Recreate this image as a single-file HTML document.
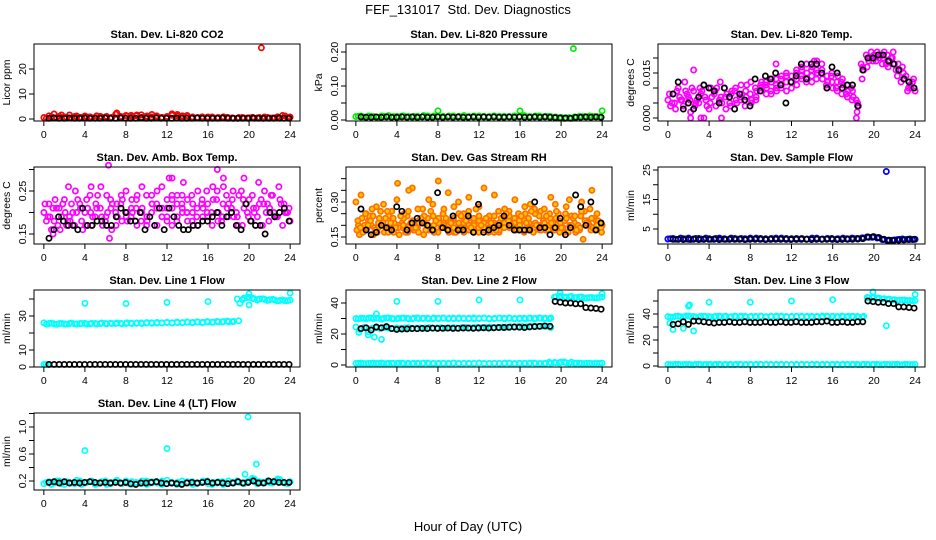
<!DOCTYPE html>
<html><head><meta charset="utf-8"><style>
html,body{margin:0;padding:0;background:#fff;}
svg{display:block;font-family:"Liberation Sans",sans-serif;}
</style></head><body>
<svg id="chart" width="936" height="540" viewBox="0 0 936 540" xmlns="http://www.w3.org/2000/svg">
<rect width="936" height="540" fill="#fff"/>
<text x="468" y="14" text-anchor="middle" font-size="13">FEF_131017&#160; Std. Dev. Diagnostics</text>
<text x="468" y="531" text-anchor="middle" font-size="13">Hour of Day (UTC)</text>
</svg>
<script>
const xTicks=[0,4,8,12,16,20,24];
const co2Red=[0.6,1.3,2.0,1.1,0.8,1.6,1.0,0.7,1.2,0.9,0.6,1.1,0.8,0.5,1.9,1.0,1.4,1.5,1.2,1.7,0.9,0.8,1.3,0.7,0.6,1.5,1.8,1.3,1.0,0.8,0.6,0.5,0.8,0.4,0.6,0.9,0.5,0.3,0.6,0.4,0.5,0.3,0.6,0.8,0.4,0.5,0.3,1.2,0.8];
const co2RedB=[0.3,0.9,0.5,1.6,0.7,0.4,1.2,0.6,0.9,0.5,1.3,0.7,1.0,0.6,2.4,0.8,1.1,0.9,1.6,0.7,1.2,1.8,0.9,0.6,1.0,2.1,1.2,0.8,1.4,0.7,0.5,0.9,0.6,0.8,0.5,0.4,0.7,0.5,0.3,0.6,0.4,0.7,0.5,0.3,0.6,0.4,0.9,1.4,0.5];
const co2OutHrs=[21.2], co2OutVals=[28.5];
const co2Black=[0.3,0.4,0.3,0.3,0.4,0.3,0.3,0.4,0.3,0.3,0.3,0.4,0.3,0.3,0.4,0.3,0.3,0.3,0.4,0.3,0.3,0.4,0.3,0.3,0.3,0.4,0.3,0.3,0.3,0.4,0.3,0.3,0.3,0.3,0.4,0.3,0.3,0.3,0.3,0.3,0.4,0.3,0.3,0.3,0.3,0.4,0.3,0.3];
const pressGreen=[0.010,0.012,0.009,0.011,0.008,0.012,0.010,0.009,0.011,0.012,0.010,0.008,0.011,0.010,0.012,0.009,0.027,0.011,0.010,0.012,0.009,0.011,0.010,0.012,0.011,0.009,0.010,0.012,0.011,0.010,0.009,0.012,0.027,0.011,0.010,0.012,0.009,0.011,0.010,0.009,0.008,0.006,0.005,0.008,0.010,0.009,0.011,0.010,0.027];
const pressGreenB=[0.011,0.009,0.012,0.010,0.008,0.011,0.013,0.010,0.009,0.012,0.010,0.011,0.009,0.013,0.010,0.012,0.011,0.009,0.012,0.010,0.011,0.013,0.010,0.009,0.012,0.011,0.010,0.012,0.009,0.011,0.010,0.012,0.011,0.013,0.010,0.009,0.012,0.010,0.011,0.008,0.006,0.004,0.007,0.009,0.011,0.010,0.012,0.010,0.009];
const pressOutHrs=[21.2], pressOutVals=[0.21];
const pressBlack=[0.009,0.008,0.008,0.009,0.008,0.009,0.008,0.008,0.009,0.008,0.009,0.008,0.009,0.008,0.008,0.009,0.008,0.009,0.008,0.009,0.008,0.008,0.009,0.008,0.009,0.008,0.009,0.008,0.008,0.009,0.008,0.009,0.008,0.008,0.009,0.008,0.009,0.008,0.007,0.006,0.006,0.005,0.008,0.008,0.009,0.008,0.009,0.008];
const tempA=[0.006,0.008,0.010,0.004,0.007,0.009,0.005,0.011,0.003,0.008,0.006,0.010,0.005,0.009,0.007,0.004,0.008,0.010,0.011,0.012,0.009,0.013,0.010,0.012,0.014,0.011,0.016,0.013,0.017,0.015,0.013,0.012,0.010,0.014,0.011,0.009,0.007,0.004,0.016,0.019,0.021,0.020,0.022,0.019,0.018,0.016,0.013,0.011,0.009];
const tempB=[0.004,0.003,0.006,0.009,0.002,0.005,0.008,0.006,0.010,0.004,0.007,0.003,0.008,0.006,0.011,0.007,0.005,0.007,0.009,0.008,0.012,0.010,0.014,0.009,0.012,0.015,0.013,0.018,0.014,0.016,0.018,0.010,0.015,0.012,0.008,0.011,0.006,0.002,0.013,0.017,0.020,0.022,0.018,0.021,0.020,0.014,0.017,0.009,0.012];
const tempC=[0.008,0.005,0.007,0.012,0.006,0.004,0.010,0.007,0.005,0.009,0.012,0.007,0.004,0.010,0.006,0.009,0.012,0.006,0.010,0.011,0.008,0.011,0.013,0.015,0.010,0.013,0.017,0.015,0.012,0.019,0.016,0.014,0.012,0.009,0.013,0.007,0.009,0.005,0.017,0.020,0.019,0.021,0.020,0.017,0.022,0.018,0.015,0.010,0.013];
const tempD=[0.005,0.009,0.006,0.008,0.010,0.006,0.009,0.004,0.007,0.010,0.005,0.008,0.009,0.005,0.008,0.011,0.006,0.009,0.012,0.010,0.013,0.009,0.011,0.014,0.012,0.016,0.014,0.012,0.016,0.013,0.015,0.011,0.014,0.010,0.012,0.008,0.010,0.006,0.018,0.021,0.022,0.019,0.021,0.018,0.020,0.016,0.012,0.014,0.010];
const tempOutHrs=[2.2,3.2,3.5,5.2,18.3,2.5,14.2,10.5], tempOutVals=[0.000,0.000,0.000,0.000,0.000,0.016,0.019,0.018];
const tempBlack=[0.008,0.012,0.003,0.005,0.003,0.007,0.011,0.010,0.009,0.005,0.010,0.007,0.003,0.008,0.006,0.004,0.013,0.009,0.014,0.013,0.015,0.011,0.005,0.012,0.014,0.018,0.013,0.018,0.018,0.015,0.010,0.017,0.015,0.010,0.011,0.011,0.004,0.016,0.020,0.020,0.021,0.021,0.019,0.018,0.016,0.013,0.012,0.010];
const ambA=[0.20,0.22,0.18,0.21,0.23,0.19,0.17,0.22,0.20,0.24,0.19,0.21,0.18,0.23,0.20,0.22,0.25,0.19,0.21,0.18,0.24,0.20,0.22,0.19,0.23,0.21,0.24,0.20,0.18,0.22,0.25,0.21,0.19,0.23,0.20,0.26,0.22,0.19,0.24,0.21,0.23,0.20,0.22,0.25,0.21,0.19,0.23,0.20,0.18];
const ambB=[0.18,0.16,0.21,0.19,0.17,0.22,0.20,0.18,0.23,0.17,0.21,0.19,0.24,0.16,0.22,0.18,0.20,0.23,0.17,0.26,0.19,0.22,0.17,0.21,0.19,0.17,0.22,0.24,0.20,0.18,0.21,0.23,0.20,0.17,0.25,0.19,0.21,0.23,0.19,0.17,0.20,0.24,0.19,0.17,0.22,0.24,0.19,0.17,0.20];
const ambC=[0.22,0.19,0.23,0.16,0.20,0.18,0.25,0.21,0.17,0.20,0.22,0.26,0.19,0.21,0.17,0.24,0.19,0.21,0.23,0.20,0.17,0.24,0.21,0.26,0.18,0.23,0.19,0.21,0.23,0.20,0.17,0.19,0.22,0.26,0.18,0.22,0.19,0.25,0.17,0.23,0.19,0.21,0.27,0.22,0.18,0.20,0.26,0.22,0.21];
const ambD=[0.19,0.21,0.17,0.22,0.18,0.20,0.23,0.16,0.21,0.19,0.24,0.17,0.20,0.22,0.19,0.23,0.18,0.20,0.24,0.21,0.18,0.22,0.25,0.19,0.21,0.24,0.18,0.22,0.20,0.24,0.19,0.22,0.25,0.20,0.23,0.18,0.24,0.21,0.20,0.25,0.22,0.18,0.21,0.23,0.20,0.24,0.19,0.22,0.20];
const ambOutHrs=[6.3,6.4,12.2,12.5,16.9,17.5,2.4,4.6,19.5,13.6,0.9], ambOutVals=[0.31,0.14,0.28,0.28,0.30,0.28,0.26,0.26,0.28,0.27,0.15];
const ambBlack=[0.14,0.16,0.19,0.18,0.17,0.17,0.16,0.21,0.17,0.17,0.18,0.18,0.17,0.17,0.19,0.21,0.20,0.18,0.18,0.20,0.16,0.19,0.17,0.21,0.16,0.21,0.19,0.17,0.16,0.16,0.17,0.17,0.18,0.18,0.19,0.20,0.17,0.19,0.20,0.17,0.16,0.22,0.18,0.17,0.17,0.15,0.20,0.19,0.20,0.21,0.18];
const rhA=[0.30,0.33,0.25,0.20,0.28,0.22,0.18,0.26,0.31,0.21,0.24,0.36,0.19,0.27,0.23,0.29,0.17,0.25,0.34,0.22,0.30,0.19,0.26,0.21,0.28,0.18,0.24,0.33,0.20,0.27,0.22,0.31,0.19,0.25,0.29,0.21,0.26,0.18,0.32,0.23,0.20,0.28,0.24,0.19,0.30,0.22,0.35,0.25,0.20];
const rhB=[0.20,0.18,0.22,0.16,0.21,0.29,0.24,0.17,0.20,0.23,0.35,0.18,0.22,0.16,0.31,0.20,0.22,0.19,0.17,0.28,0.18,0.23,0.20,0.17,0.22,0.36,0.19,0.21,0.17,0.23,0.26,0.18,0.22,0.17,0.21,0.19,0.24,0.27,0.20,0.18,0.22,0.17,0.31,0.21,0.18,0.26,0.20,0.23,0.18];
const rhC=[0.18,0.23,0.19,0.27,0.17,0.20,0.26,0.22,0.38,0.19,0.17,0.22,0.27,0.21,0.19,0.24,0.39,0.21,0.18,0.23,0.20,0.25,0.32,0.19,0.17,0.22,0.19,0.24,0.18,0.21,0.19,0.23,0.20,0.28,0.18,0.25,0.20,0.19,0.23,0.29,0.21,0.25,0.19,0.17,0.24,0.20,0.18,0.22,0.19];
const rhD=[0.16,0.20,0.24,0.19,0.23,0.17,0.19,0.21,0.16,0.25,0.20,0.18,0.21,0.24,0.18,0.17,0.21,0.27,0.20,0.17,0.25,0.21,0.18,0.23,0.19,0.21,0.17,0.20,0.26,0.19,0.22,0.20,0.25,0.18,0.23,0.17,0.20,0.22,0.18,0.21,0.25,0.19,0.17,0.23,0.20,0.14,0.21,0.19,0.22];
const rhE=[0.22,0.17,0.20,0.24,0.19,0.21,0.17,0.23,0.19,0.20,0.26,0.19,0.17,0.22,0.20,0.18,0.23,0.20,0.22,0.19,0.21,0.17,0.23,0.20,0.24,0.19,0.22,0.17,0.21,0.19,0.24,0.21,0.18,0.22,0.19,0.27,0.18,0.21,0.25,0.19,0.17,0.22,0.20,0.24,0.19,0.22,0.27,0.18,0.21];
const rhF=[0.19,0.25,0.22,0.18,0.26,0.23,0.21,0.19,0.24,0.17,0.21,0.19,0.23,0.18,0.26,0.22,0.19,0.23,0.21,0.17,0.24,0.22,0.19,0.27,0.20,0.23,0.21,0.18,0.23,0.25,0.20,0.18,0.24,0.21,0.26,0.20,0.18,0.24,0.21,0.26,0.19,0.23,0.20,0.18,0.26,0.21,0.23,0.20,0.17];
const rhBlack=[0.27,0.18,0.16,0.17,0.20,0.19,0.18,0.28,0.26,0.18,0.21,0.23,0.21,0.20,0.18,0.34,0.19,0.18,0.24,0.18,0.18,0.24,0.17,0.29,0.17,0.18,0.19,0.20,0.24,0.20,0.18,0.18,0.18,0.18,0.30,0.19,0.19,0.16,0.19,0.23,0.16,0.19,0.33,0.28,0.20,0.30,0.18,0.21];
const sampBlue=[1.6,1.8,1.5,1.7,1.9,1.6,1.8,1.5,1.7,1.6,1.9,1.7,1.5,1.8,1.6,1.7,1.9,1.6,1.8,1.7,1.5,1.9,1.6,1.8,1.7,1.5,1.8,1.6,1.9,1.7,1.6,1.8,1.5,1.7,1.9,1.6,1.8,1.7,1.9,2.2,2.4,2.1,1.5,1.2,1.3,1.5,1.4,1.6,1.5];
const sampBlueB=[1.7,1.5,1.9,1.6,1.4,1.8,1.6,1.9,1.5,1.8,1.6,1.5,1.9,1.6,1.8,1.5,1.7,1.9,1.6,1.5,1.8,1.6,1.9,1.5,1.7,1.8,1.6,1.5,1.7,1.9,1.5,1.7,1.8,1.6,1.5,1.7,1.9,1.8,2.0,2.3,2.2,1.9,1.4,1.1,1.2,1.4,1.6,1.5,1.4];
const sampOutHrs=[21.2], sampOutVals=[24.5];
const sampBlack=[1.5,1.5,1.4,1.5,1.5,1.4,1.5,1.5,1.5,1.4,1.5,1.5,1.5,1.5,1.4,1.5,1.5,1.5,1.4,1.5,1.5,1.5,1.5,1.4,1.5,1.5,1.5,1.4,1.5,1.5,1.5,1.5,1.4,1.5,1.5,1.5,1.6,1.7,2.3,2.4,2.1,1.5,1.2,1.1,1.2,1.3,1.4,1.5];
const l1CyanA=[26,25.6,25.4,25.5,25.3,25.6,25.4,25.5,25.7,25.4,25.6,25.5,25.6,25.8,25.5,25.7,25.6,25.8,25.7,25.9,25.8,26,25.8,26,26.1,26,26.2,26.1,26.3,26.2,26.4,26.3,26.5,26.4,26.6,26.7,26.6,26.8,27.2,40.5,41,40.2,40,39.8,39.6,39.5,39.2,39,39.3];
const l1CyanB=[25.2,25.8,25.1,25.7,25.2,25.8,25.3,25.6,25.2,25.7,25.3,25.9,25.4,25.5,25.9,25.4,26,25.5,25.9,25.6,26.1,25.7,26.2,25.8,26.3,25.9,26.4,26,26.5,26.1,26.6,26.2,26.7,26.3,26.8,26.5,27,26.7,40,39.6,40.8,40.4,39.4,40.1,39.2,39.8,38.9,39.5,39];
const l1OutHrs=[0,0.2,0.4,4,8,12,16,19.1,20,20,24], l1OutVals=[1.5,1.5,1.5,37.5,37.3,38,38.5,37.5,43,36.5,43.5];
const l1Black=[1.5,1.5,1.5,1.5,1.5,1.5,1.5,1.5,1.5,1.5,1.5,1.5,1.5,1.5,1.5,1.5,1.5,1.5,1.5,1.5,1.5,1.5,1.5,1.5,1.5,1.5,1.5,1.5,1.5,1.5,1.5,1.5,1.5,1.5,1.5,1.5,1.5,1.5,1.5,1.5,1.5,1.5,1.5,1.5,1.5,1.5,1.5,1.5];
const l2CyanA=[30,30.2,29.8,30.4,30.1,29.7,30.3,30,29.9,30.2,30.1,29.8,30.3,30,30.2,29.9,30.1,30.3,29.8,30.2,30,30.1,29.9,30.3,30,30.2,29.8,30.1,30.3,29.9,30.2,30,30.1,29.8,30.3,30,30.2,30.1,30.4,44,44.5,43.8,44.2,43.5,43.9,43.2,43.6,43.4,43.8];
const l2CyanB=[29.8,30.1,30.3,29.9,30.2,30,30.4,29.8,30.1,30.3,29.9,30.2,30,30.1,29.8,30.3,30,30.2,30.1,29.9,30.3,30,30.2,29.8,30.1,30.3,30,29.9,30.2,30.1,30.3,29.8,30,30.2,30.1,29.9,30.3,30,29.8,43.8,44.2,43.6,44,43.4,43.8,43.1,43.5,43.3,43.6];
const l2CyanMid=[24.5,23,24.2,21.5,23.8,24,23.5,24.2,23.8,23.5,24,23.7,23.9,24.1,23.6,23.8,24,23.9,24.2,23.7,24,24.1,23.8,24,24.2,23.9,24.1,24.3,24,24.2,24.4,24.1,24.3,24.5,24.2,24.4,24.6,24.5,24.8,24.6,24.9,25,24.7,25,25.2,24.9,25.1,25,24.2];
const l2Zero=[1,1.2,0.9,1.1,1,1.3,0.9,1.1,1,1.2,1,0.9,1.1,1,1.2,1,0.9,1.1,1,1.2,0.9,1,1.1,1,1.2,0.9,1,1.1,1,1.2,1,0.9,1.1,1,1.2,1,0.9,1.1,1,1.5,2,1.4,1.8,1.2,1,1.1,0.9,1,1.2];
const l2ZeroB=[1.1,0.9,1,1.2,1,0.9,1.1,1,1.2,0.9,1,1.1,1,1.2,0.9,1,1.1,1,0.9,1.2,1,1.1,0.9,1,1.2,1,0.9,1.1,1,1,1.2,0.9,1.1,1,1,1.2,0.9,1,1.8,1.6,1.3,1.9,1.1,1,1.2,0.9,1.1,1,1];
const l2OutHrs=[0.3,1.2,1.8,2,2.5,4,8,12,16,19.9,24], l2OutVals=[21,19.5,18,33,16.5,41,41,42,42,46.5,46];
const l2Black=[23.5,24,22.5,24.5,24,24.8,23.5,23,23.2,23.3,23.5,23.4,23.6,23.5,23.8,23.6,23.7,23.8,23.6,23.7,23.9,23.8,23.7,23.9,24,23.8,24,24.1,24.2,24.3,24.5,24.4,24.2,24.6,24.8,25,25.2,25,41,40.5,40,40,39.5,39.5,37,36.8,36.5,36];
const l3CyanA=[38,37.6,38.3,37.8,38.5,38.1,37.7,38.2,38,37.9,38.3,38.1,37.8,38.4,38,38.2,37.9,38.1,38.3,37.8,38.2,38,38.4,38.1,37.9,38.3,38,38.2,37.8,38.1,38.4,38,38.2,37.9,38.1,38.3,38,37.8,38.2,52.5,53,52.2,51.8,51.5,51,50.6,50.8,50.4,50.5];
const l3CyanB=[37.6,38.2,37.9,38.4,38,37.7,38.3,38.1,37.8,38.2,38,38.3,37.9,38.1,38.4,37.8,38.2,38,38.3,37.9,38.1,38.4,38,37.8,38.2,38.1,38.3,37.9,38.2,38,37.8,38.3,38.1,38,38.4,37.9,38.2,38.1,37.6,52.8,52.4,52,51.6,51.2,50.8,50.5,50.7,50.3,50.2];
const l3Zero=[1.2,1,1.3,1.1,1.2,0.9,1.3,1.1,1.2,1,1.3,1.1,1.2,1,1.3,1.1,1.2,1,1.3,1.1,1.2,1,1.3,1.1,1.2,1,1.3,1.1,1.2,1,1.3,1.1,1.2,1,1.3,1.1,1.2,1,1.3,1.1,1.2,1,1.3,1.1,1.2,1,1.3,1.1,1.2];
const l3ZeroB=[1.1,1.3,1,1.2,1.1,1.3,1,1.2,1.1,1.3,1,1.2,1.1,1.3,1,1.2,1.1,1.3,1,1.2,1.1,1.3,1,1.2,1.1,1.3,1,1.2,1.1,1.3,1,1.2,1.1,1.3,1,1.2,1.1,1.3,1,1.2,1.1,1.3,1,1.2,1.1,1.3,1,1.2,1.1];
const l3OutHrs=[0.2,0.5,1.5,2,2.1,2.5,4,8,12,16,19.9,21.2,24], l3OutVals=[33,28,29,46,47,27,49,49,50,51,57,31,55];
const l3Black=[32,32.5,34,32,34.5,34.5,34,33.5,33,33.5,33.5,34,33.5,33.5,34,33.5,33.5,33.5,34,33.5,33.5,34,33.5,33.5,34,33.5,33.5,33.5,34,34,34.5,33.5,33.5,34,33.5,33.5,34,34,50,49.5,49,49,48,48,45.5,45.5,45,44.5];
const l4CyanA=[0.16,0.19,0.17,0.2,0.15,0.18,0.16,0.2,0.17,0.19,0.15,0.18,0.2,0.16,0.19,0.17,0.2,0.15,0.18,0.16,0.2,0.17,0.19,0.15,0.21,0.17,0.18,0.16,0.19,0.15,0.17,0.2,0.16,0.18,0.19,0.15,0.2,0.17,0.18,0.16,0.2,0.22,0.19,0.17,0.18,0.2,0.22,0.17,0.19];
const l4CyanB=[0.18,0.15,0.2,0.16,0.19,0.17,0.21,0.15,0.18,0.2,0.16,0.19,0.15,0.18,0.21,0.16,0.17,0.19,0.16,0.2,0.15,0.19,0.17,0.2,0.16,0.18,0.15,0.2,0.17,0.19,0.16,0.18,0.2,0.15,0.17,0.19,0.16,0.18,0.2,0.17,0.19,0.24,0.16,0.18,0.2,0.17,0.21,0.18,0.16];
const l4OutHrs=[4,12,19.6,19.9,20.5,20.7,22.8], l4OutVals=[0.65,0.68,0.30,1.15,0.23,0.45,0.23];
const l4Black=[0.18,0.19,0.17,0.19,0.17,0.18,0.17,0.18,0.19,0.18,0.17,0.18,0.17,0.18,0.17,0.18,0.16,0.15,0.17,0.17,0.18,0.19,0.17,0.16,0.17,0.16,0.15,0.17,0.18,0.17,0.18,0.19,0.17,0.18,0.17,0.16,0.17,0.19,0.17,0.18,0.2,0.17,0.17,0.2,0.19,0.18,0.18,0.18];

const NS='http://www.w3.org/2000/svg';
const svg=document.getElementById('chart');
const cols=[[34,300],[346,612],[658,925]];
const rowTops=[44,167,290,413];
const BH=77;
const panels=[
 {id:'co2',title:'Stan. Dev. Li-820 CO2',ylab:'Licor ppm',col:0,row:0,a:[0,119,20,69],ticks:[0,10,20],labels:['0','10','20'],
  series:[{c:'#f00',h0:0,h1:24,v:co2Red},{c:'#f00',h0:0.25,h1:23.75,v:co2RedB},{c:'#f00',hrs:co2OutHrs,v:co2OutVals},{c:'#000',h0:0.5,h1:23.9,v:co2Black}]},
 {id:'pressure',title:'Stan. Dev. Li-820 Pressure',ylab:'kPa',col:1,row:0,a:[0,120,0.2,52],ticks:[0,0.05,0.1,0.15,0.2],labels:['0.00','','0.10','','0.20'],
  series:[{c:'#00ee00',h0:0,h1:24,v:pressGreen},{c:'#00ee00',h0:0.25,h1:23.75,v:pressGreenB},{c:'#00ee00',hrs:pressOutHrs,v:pressOutVals},{c:'#000',h0:0.5,h1:23.9,v:pressBlack}]},
 {id:'temp',title:'Stan. Dev. Li-820 Temp.',ylab:'degrees C',col:2,row:0,a:[0,118,0.015,73],ticks:[0,0.005,0.01,0.015,0.02],labels:['0.000','','','0.015',''],
  series:[{c:'#f0f',h0:0,h1:24,v:tempA},{c:'#f0f',h0:0.25,h1:23.75,v:tempB},{c:'#f0f',h0:0.15,h1:23.85,v:tempC},{c:'#f0f',h0:0.4,h1:23.6,v:tempD},{c:'#f0f',hrs:tempOutHrs,v:tempOutVals},{c:'#000',h0:0.5,h1:23.9,v:tempBlack}]},
 {id:'amb-box',title:'Stan. Dev. Amb. Box Temp.',ylab:'degrees C',col:0,row:1,a:[0.15,234,0.25,191],ticks:[0.15,0.2,0.25,0.3],labels:['0.15','','0.25',''],
  series:[{c:'#f0f',h0:0,h1:24,v:ambA},{c:'#f0f',h0:0.25,h1:23.75,v:ambB},{c:'#f0f',h0:0.1,h1:23.9,v:ambC},{c:'#f0f',h0:0.4,h1:23.6,v:ambD},{c:'#f0f',hrs:ambOutHrs,v:ambOutVals},{c:'#000',h0:0.5,h1:23.9,v:ambBlack}]},
 {id:'gas-rh',title:'Stan. Dev. Gas Stream RH',ylab:'percent',col:1,row:1,a:[0.15,237,0.30,202],ticks:[0.15,0.2,0.25,0.3,0.35,0.4],labels:['0.15','','','0.30','',''],
  series:[{c:'#ff7000',f:'#ffc800',h0:0,h1:24,v:rhA},{c:'#ff7000',f:'#ffc800',h0:0.25,h1:23.75,v:rhB},{c:'#ff7000',f:'#ffc800',h0:0.1,h1:23.9,v:rhC},{c:'#ff7000',f:'#ffc800',h0:0.35,h1:23.6,v:rhD},{c:'#ff7000',f:'#ffc800',h0:0.2,h1:23.8,v:rhE},{c:'#ff7000',f:'#ffc800',h0:0.45,h1:23.95,v:rhF},{c:'#000',h0:0.5,h1:23.9,v:rhBlack}]},
 {id:'sample-flow',title:'Stan. Dev. Sample Flow',ylab:'ml/min',col:2,row:1,a:[5,229,25,170],ticks:[5,10,15,20,25],labels:['5','','15','','25'],
  series:[{c:'#00f',h0:0,h1:24,v:sampBlue},{c:'#00f',h0:0.25,h1:23.75,v:sampBlueB},{c:'#00f',hrs:sampOutHrs,v:sampOutVals},{c:'#000',h0:0.5,h1:23.9,v:sampBlack}]},
 {id:'line1',title:'Stan. Dev. Line 1 Flow',ylab:'ml/min',col:0,row:2,a:[0,367,30,316],ticks:[0,10,20,30,40],labels:['0','10','','30',''],
  series:[{c:'#0ff',h0:0,h1:24,v:l1CyanA},{c:'#0ff',h0:0.25,h1:23.75,v:l1CyanB},{c:'#0ff',hrs:l1OutHrs,v:l1OutVals},{c:'#000',h0:0.5,h1:23.9,v:l1Black}]},
 {id:'line2',title:'Stan. Dev. Line 2 Flow',ylab:'ml/min',col:1,row:2,a:[0,365,40,303],ticks:[0,10,20,30,40],labels:['0','','20','','40'],
  series:[{c:'#0ff',h0:0,h1:24,v:l2CyanA},{c:'#0ff',h0:0.25,h1:23.75,v:l2CyanB},{c:'#0ff',h0:0,h1:19,v:l2CyanMid},{c:'#0ff',h0:0,h1:24,v:l2Zero},{c:'#0ff',h0:0.25,h1:23.75,v:l2ZeroB},{c:'#0ff',hrs:l2OutHrs,v:l2OutVals},{c:'#000',h0:0.5,h1:23.9,v:l2Black}]},
 {id:'line3',title:'Stan. Dev. Line 3 Flow',ylab:'ml/min',col:2,row:2,a:[0,366,40,314],ticks:[0,10,20,30,40,50],labels:['0','','20','','40',''],
  series:[{c:'#0ff',h0:0,h1:24,v:l3CyanA},{c:'#0ff',h0:0.25,h1:23.75,v:l3CyanB},{c:'#0ff',h0:0,h1:24,v:l3Zero},{c:'#0ff',h0:0.25,h1:23.75,v:l3ZeroB},{c:'#0ff',hrs:l3OutHrs,v:l3OutVals},{c:'#000',h0:0.5,h1:23.9,v:l3Black}]},
 {id:'line4',title:'Stan. Dev. Line 4 (LT) Flow',ylab:'ml/min',col:0,row:3,a:[0.2,481,1.0,427],ticks:[0.2,0.4,0.6,0.8,1.0,1.2],labels:['0.2','','0.6','','1.0',''],
  series:[{c:'#0ff',h0:0,h1:24,v:l4CyanA},{c:'#0ff',h0:0.25,h1:23.75,v:l4CyanB},{c:'#0ff',hrs:l4OutHrs,v:l4OutVals},{c:'#000',h0:0.5,h1:23.9,v:l4Black}]}
];
function mk(tag,attrs,parent){const e=document.createElementNS(NS,tag);for(const k in attrs)e.setAttribute(k,attrs[k]);parent.appendChild(e);return e;}
panels.forEach(p=>{
  const L=cols[p.col][0],R=cols[p.col][1],T=rowTops[p.row],B=T+BH;
  const xs=h=>L+(h+0.96)/25.92*(R-L);
  const ys=v=>p.a[1]+(v-p.a[0])*(p.a[3]-p.a[1])/(p.a[2]-p.a[0]);
  const g=mk('g',{},svg);
  
  
  const t=mk('text',{x:(L+R)/2,y:T-6,'text-anchor':'middle','font-size':'11','font-weight':'bold'},g);
  t.textContent=p.title;
  
  
  const yl=mk('text',{x:0,y:0,'text-anchor':'middle','font-size':'10.5',transform:`translate(${L-24},${(T+B)/2}) rotate(-90)`},g);
  yl.textContent=p.ylab;
  
  
  const mg=mk('g',{},g);
  
  
  p.series.forEach(s=>{
    const n=s.v.length;
    s.v.forEach((v,i)=>{
      const h=s.hrs?s.hrs[i]:(n>1?s.h0+(s.h1-s.h0)*i/(n-1):s.h0);
      const cy=ys(v);
      if(cy<T-2||cy>B+2)return;
      const c=mk('circle',{cx:xs(h).toFixed(1),cy:cy.toFixed(1),r:2.6,fill:s.f||'none',stroke:s.c,'stroke-width':1.7},mg);
      
      
    });
  });
  const bx=mk('rect',{x:L,y:T,width:R-L,height:BH,fill:'none',stroke:'#000','stroke-width':1},g);
  
  
  const xa=mk('g',{},g);
  
  
  mk('line',{x1:xs(0),x2:xs(24),y1:B,y2:B,stroke:'#000'},xa);
  xTicks.forEach(h=>{
    mk('line',{x1:xs(h),x2:xs(h),y1:B,y2:B+5,stroke:'#000'},xa);
    const tl=mk('text',{x:xs(h),y:B+17,'text-anchor':'middle','font-size':'10.5'},xa);
    tl.textContent=String(h);
    
    
  });
  const ya=mk('g',{},g);
  
  
  mk('line',{x1:L,x2:L,y1:ys(p.ticks[0]),y2:ys(p.ticks[p.ticks.length-1]),stroke:'#000'},ya);
  p.ticks.forEach((v,i)=>{
    const y=ys(v);
    mk('line',{x1:L-5,x2:L,y1:y,y2:y,stroke:'#000'},ya);
    if(p.labels[i]){
      const tl=mk('text',{x:0,y:0,'text-anchor':'middle','font-size':'10.5',transform:`translate(${L-8},${y}) rotate(-90)`},ya);
      tl.textContent=p.labels[i];
      
      
    }
  });
});
</script>
</body></html>
